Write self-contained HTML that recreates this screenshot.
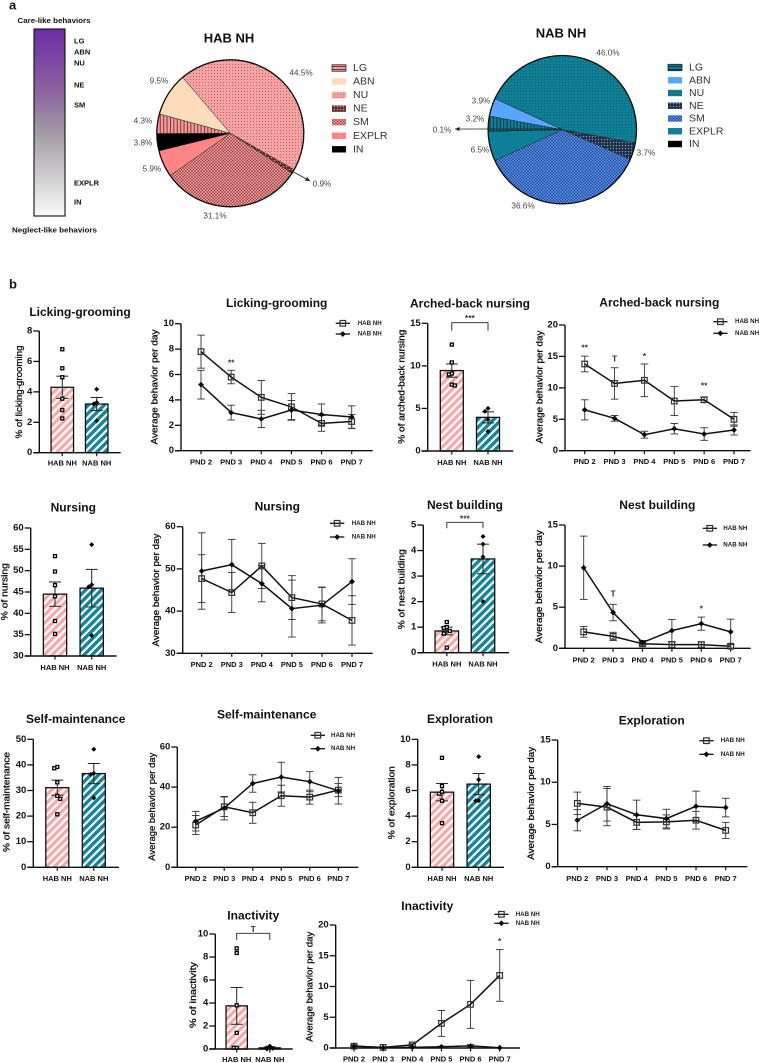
<!DOCTYPE html>
<html lang="en">
<head>
<meta charset="utf-8">
<title>Maternal behavior: HAB NH vs NAB NH</title>
<style>
html,body{margin:0;padding:0;background:#fff;}
body{width:759px;height:1063px;overflow:hidden;}
svg{display:block;filter:blur(.35px);font-family:"Liberation Sans",Arial,sans-serif;}
text{fill:#111;dominant-baseline:central;}
</style>
</head>
<body>
<svg id="figure" width="759" height="1063" viewBox="0 0 759 1063" xmlns="http://www.w3.org/2000/svg">
<defs>
<linearGradient id="care-gradient" x1="0" y1="0" x2="0" y2="1">
<stop offset="0" stop-color="#6d2ba6"/>
<stop offset=".33" stop-color="#8a639f"/>
<stop offset=".6" stop-color="#a9a6a9"/>
<stop offset="1" stop-color="#fafafa"/>
</linearGradient>
<pattern id="stripe-hab" width="5.6" height="5.6" patternUnits="userSpaceOnUse" patternTransform="rotate(45)"><rect width="5.6" height="5.6" fill="#fff"/><rect width="3.2" height="5.6" fill="#f9a7a7"/></pattern>
<pattern id="stripe-nab" width="5.6" height="5.6" patternUnits="userSpaceOnUse" patternTransform="rotate(45)"><rect width="5.6" height="5.6" fill="#fff"/><rect width="3.4" height="5.6" fill="#14849b"/></pattern>
<pattern id="hab-LG" width="3.4" height="3.4" patternUnits="userSpaceOnUse"><rect width="3.4" height="3.4" fill="#f59a9a"/><rect width=".9" height="3.4" fill="#6b3030"/></pattern>
<pattern id="hab-LG-key" width="3" height="3" patternUnits="userSpaceOnUse"><rect width="3" height="3" fill="#f59a9a"/><rect width="3" height=".9" fill="#6b3030"/></pattern>
<pattern id="hab-NU" width="3" height="3" patternUnits="userSpaceOnUse"><rect width="3" height="3" fill="#f8a3a3"/><circle cx="1.5" cy="1.5" r=".55" fill="#a85a5a"/></pattern>
<pattern id="hab-NE" width="3" height="3" patternUnits="userSpaceOnUse"><rect width="3" height="3" fill="#5e2c2c"/><circle cx="1.5" cy="1.5" r=".8" fill="#e89090"/></pattern>
<pattern id="hab-SM" width="3" height="3" patternUnits="userSpaceOnUse"><rect width="3" height="3" fill="#f29393"/><path d="M0 3L3 0M0 0L3 3" stroke="#753a3a" stroke-width=".5"/></pattern>
<pattern id="nab-LG" width="3.4" height="3.4" patternUnits="userSpaceOnUse"><rect width="3.4" height="3.4" fill="#0e8096"/><rect width=".9" height="3.4" fill="#07303c"/></pattern>
<pattern id="nab-LG-key" width="3" height="3" patternUnits="userSpaceOnUse"><rect width="3" height="3" fill="#0e8096"/><rect width="3" height=".9" fill="#07303c"/></pattern>
<pattern id="nab-NU" width="3" height="3" patternUnits="userSpaceOnUse"><rect width="3" height="3" fill="#0e8096"/><circle cx="1.5" cy="1.5" r=".55" fill="#0a4f60"/></pattern>
<pattern id="nab-NE" width="3" height="3" patternUnits="userSpaceOnUse"><rect width="3" height="3" fill="#1c2f48"/><circle cx="1.5" cy="1.5" r=".75" fill="#7f93ad"/></pattern>
<pattern id="nab-SM" width="3" height="3" patternUnits="userSpaceOnUse"><rect width="3" height="3" fill="#4f88e6"/><path d="M0 3L3 0M0 0L3 3" stroke="#1d3f78" stroke-width=".5"/></pattern>
</defs>

<text x="9" y="5" font-size="13" font-weight="bold">a</text>
<text x="9" y="284" font-size="13" font-weight="bold">b</text>

<g>
<text x="54" y="20.5" font-size="7.5" font-weight="bold" text-anchor="middle" textLength="73" lengthAdjust="spacingAndGlyphs">Care-like behaviors</text>
<rect x="34" y="29" width="31" height="187" fill="url(#care-gradient)" stroke="#111" stroke-width="1.1"/>
<text x="74" y="41" font-size="7.5" font-weight="bold">LG</text>
<text x="74" y="52" font-size="7.5" font-weight="bold">ABN</text>
<text x="74" y="63" font-size="7.5" font-weight="bold">NU</text>
<text x="74" y="85" font-size="7.5" font-weight="bold">NE</text>
<text x="74" y="105" font-size="7.5" font-weight="bold">SM</text>
<text x="74" y="183" font-size="7.5" font-weight="bold">EXPLR</text>
<text x="74" y="202" font-size="7.5" font-weight="bold">IN</text>
<text x="54.5" y="230" font-size="7.5" font-weight="bold" text-anchor="middle" textLength="85" lengthAdjust="spacingAndGlyphs">Neglect-like behaviors</text>
</g>
</svg>

<script>
const NS = 'http://www.w3.org/2000/svg';
const figure = document.getElementById('figure');

/* ---------- shared categories ---------- */
const groupNames = ['HAB NH', 'NAB NH'];
const pndDays = ['PND 2', 'PND 3', 'PND 4', 'PND 5', 'PND 6', 'PND 7'];
const pieCategories = ['LG', 'ABN', 'NU', 'NE', 'SM', 'EXPLR', 'IN'];

/* ---------- pie shares (%) in legend order ---------- */
const habPieValues = [4.3, 9.5, 44.5, 0.9, 31.1, 5.9, 3.8];
const nabPieValues = [3.2, 3.9, 46.0, 3.7, 36.6, 6.5, 0.1];

/* ---------- licking-grooming ---------- */
const lgBarMeans = [4.3, 3.2];
const lgBarSem = [0.73, 0.43];
const lgBarHabPoints = [6.8, 5.55, 4.96, 3.55, 2.8, 2.25];
const lgBarNabPoints = [4.17, 3.3, 3.2, 2.1];
const lgBarTicks = [0, 2, 4, 6, 8];
const lgHabMeans = [7.8, 5.8, 4.2, 3.45, 2.15, 2.3];
const lgHabSem = [1.3, 0.53, 1.33, 1.05, 0.62, 0.55];
const lgNabMeans = [5.2, 3.0, 2.5, 3.2, 2.85, 2.65];
const lgNabSem = [1.13, 0.58, 0.68, 0.75, 0.83, 0.88];
const lgLineTicks = [0, 2, 4, 6, 8, 10];
const lgSigDays = [1];
const lgSigValues = [6.93];
const lgSigMarks = ['**'];

/* ---------- arched-back nursing ---------- */
const abnBarMeans = [9.45, 3.95];
const abnBarSem = [0.78, 0.65];
const abnBarHabPoints = [12.5, 10.4, 9.1, 9.0, 7.8, 7.7];
const abnBarNabPoints = [5.0, 4.65, 3.7, 2.3];
const abnBarTicks = [0, 5, 10, 15];
const abnHabMeans = [13.8, 10.7, 11.2, 7.9, 8.1, 5.0];
const abnHabSem = [1.25, 2.5, 2.6, 2.3, 0.4, 1.1];
const abnNabMeans = [6.5, 5.15, 2.55, 3.5, 2.65, 3.3];
const abnNabSem = [1.6, 0.45, 0.55, 0.83, 1.0, 0.8];
const abnLineTicks = [0, 5, 10, 15, 20];
const abnSigDays = [0, 1, 2, 4];
const abnSigValues = [16.45, 14.7, 15.07, 10.35];
const abnSigMarks = ['**', 'T', '*', '**'];

/* ---------- nursing ---------- */
const nuBarMeans = [44.5, 45.9];
const nuBarSem = [2.85, 4.4];
const nuBarHabPoints = [53.4, 49.8, 46.6, 44.0, 38.2, 35.2];
const nuBarNabPoints = [56.1, 46.7, 46.2, 34.8];
const nuBarTicks = [30, 35, 40, 45, 50, 55, 60];
const nuHabMeans = [47.7, 44.4, 50.7, 43.2, 41.7, 37.8];
const nuHabSem = [5.65, 4.75, 5.35, 5.2, 4.0, 5.85];
const nuNabMeans = [49.5, 51.0, 46.5, 40.6, 41.4, 47.0];
const nuNabSem = [9.05, 6.0, 4.3, 6.75, 4.2, 5.4];
const nuLineTicks = [30, 40, 50, 60];

/* ---------- nest building ---------- */
const neBarMeans = [0.85, 3.67];
const neBarSem = [0.15, 0.58];
const neBarHabPoints = [1.2, 1.0, 0.97, 0.85, 0.75, 0.2];
const neBarNabPoints = [4.55, 4.25, 3.75, 2.0];
const neBarTicks = [0, 1, 2, 3, 4, 5];
const neHabMeans = [2.0, 1.45, 0.55, 0.45, 0.45, 0.25];
const neHabSem = [0.65, 0.5, 0.25, 0.35, 0.33, 0.25];
const neNabMeans = [9.8, 4.35, 0.7, 2.15, 3.0, 2.0];
const neNabSem = [3.85, 1.0, 0.25, 1.35, 0.8, 1.55];
const neLineTicks = [0, 5, 10, 15];
const neSigDays = [1, 4];
const neSigValues = [6.64, 4.87];
const neSigMarks = ['T', '*'];

/* ---------- self-maintenance ---------- */
const smBarMeans = [31.1, 36.6];
const smBarSem = [2.95, 3.95];
const smBarHabPoints = [39.2, 38.7, 33.2, 27.9, 26.7, 20.7];
const smBarNabPoints = [46.1, 36.7, 36.3, 27.1];
const smBarTicks = [0, 10, 20, 30, 40, 50];
const smHabMeans = [21.1, 30.2, 27.2, 35.7, 35.0, 38.5];
const smHabSem = [4.75, 4.9, 5.25, 5.25, 3.5, 3.25];
const smNabMeans = [23.0, 29.5, 41.8, 45.0, 42.7, 38.2];
const smNabSem = [4.9, 5.85, 4.35, 7.4, 5.0, 6.65];
const smLineTicks = [0, 20, 40, 60];

/* ---------- exploration ---------- */
const exBarMeans = [5.87, 6.5];
const exBarSem = [0.68, 0.83];
const exBarHabPoints = [8.55, 6.35, 5.9, 5.75, 5.2, 3.45];
const exBarNabPoints = [8.65, 6.85, 5.2, 5.2];
const exBarTicks = [0, 2, 4, 6, 8, 10];
const exHabMeans = [7.5, 7.05, 5.25, 5.3, 5.5, 4.3];
const exHabSem = [1.33, 2.2, 0.83, 0.83, 1.05, 0.95];
const exNabMeans = [5.5, 7.45, 6.15, 5.7, 7.15, 7.0];
const exNabSem = [1.25, 2.05, 1.73, 1.1, 1.8, 1.1];
const exLineTicks = [0, 5, 10, 15];

/* ---------- inactivity ---------- */
const inBarMeans = [3.75, 0.1];
const inBarSem = [1.6, 0.08];
const inBarHabPoints = [8.75, 8.35, 3.8, 1.4, 0.1, 0.1];
const inBarNabPoints = [0.25, 0.1, 0.05, 0.0];
const inBarTicks = [0, 2, 4, 6, 8, 10];
const inHabMeans = [0.3, 0.1, 0.5, 4.0, 7.1, 11.8];
const inHabSem = [0.2, 0.05, 0.2, 2.1, 3.9, 4.2];
const inNabMeans = [0.3, 0.05, 0.1, 0.2, 0.35, 0.05];
const inNabSem = [0.1, 0.05, 0.05, 0.1, 0.2, 0.02];
const inLineTicks = [0, 5, 10, 15, 20];
const inSigDays = [5];
const inSigValues = [17.4];
const inSigMarks = ['*'];

/* ---------- element helpers ---------- */
function mk(tag, attrs, parent, name) {
  const el = document.createElementNS(NS, tag);
  for (const k in attrs) el.setAttribute(k, attrs[k]);
  
  
  parent.appendChild(el);
  return el;
}
function txt(str, attrs, parent, name) {
  const el = mk('text', attrs, parent, name);
  el.textContent = str;
  return el;
}
function line(x1, y1, x2, y2, stroke, sw, parent, name) {
  return mk('line', {x1, y1, x2, y2, stroke, 'stroke-width': sw}, parent, name);
}
function linearScale(d0, d1, p0, p1) {
  return v => p0 + (v - d0) * (p1 - p0) / (d1 - d0);
}
function slug(s) {
  return s.toLowerCase().replace(/[^a-z0-9]+/g, '-');
}

/* ---------- pies ---------- */
function drawPie(opt) {
  const g = mk('g', {}, figure, opt.key + '-pie-chart');
  txt(opt.title, {x: opt.titleX, y: opt.titleY, 'font-size': 13, 'font-weight': 'bold', 'text-anchor': 'middle'}, g, opt.key + '-pie-title');
  const total = opt.values.reduce((a, b) => a + b, 0);
  const n = opt.values.length;
  let angle = opt.startAngle;
  for (let k = 0; k < n; k++) {
    const i = (k + 2) % n;
    const sweep = opt.values[i] / total * 360;
    const a0 = angle * Math.PI / 180;
    const a1 = (angle + sweep) * Math.PI / 180;
    const x0 = opt.cx + opt.r * Math.sin(a0);
    const y0 = opt.cy - opt.r * Math.cos(a0);
    const x1 = opt.cx + opt.r * Math.sin(a1);
    const y1 = opt.cy - opt.r * Math.cos(a1);
    const large = sweep > 180 ? 1 : 0;
    const d = 'M' + opt.cx + ' ' + opt.cy + 'L' + x0 + ' ' + y0 + 'A' + opt.r + ' ' + opt.r + ' 0 ' + large + ' 1 ' + x1 + ' ' + y1 + 'Z';
    mk('path', {d, fill: opt.fills[i], stroke: '#222', 'stroke-width': .5}, g, opt.key + '-slice-' + slug(pieCategories[i]));
    angle += sweep;
  }
  mk('circle', {cx: opt.cx, cy: opt.cy, r: opt.r, fill: 'none', stroke: '#0a0a0a', 'stroke-width': 1.3}, g, opt.key + '-pie-outline');
  opt.values.forEach((v, i) => {
    txt(v.toFixed(1) + '%', {x: opt.labelX[i], y: opt.labelY[i], 'font-size': 8.2, 'text-anchor': 'middle', style: 'fill:#444'}, g, opt.key + '-percent-' + slug(pieCategories[i]));
  });
  line(opt.arrow[0], opt.arrow[1], opt.arrow[2], opt.arrow[3], '#222', .8, g, opt.key + '-leader-line');
  const ang = Math.atan2(opt.arrow[3] - opt.arrow[1], opt.arrow[2] - opt.arrow[0]);
  const ax = opt.arrow[2], ay = opt.arrow[3];
  const pts = [[ax, ay], [ax - 5 * Math.cos(ang - .45), ay - 5 * Math.sin(ang - .45)], [ax - 5 * Math.cos(ang + .45), ay - 5 * Math.sin(ang + .45)]];
  mk('polygon', {points: pts.map(p => p.join(',')).join(' '), fill: '#222'}, g, opt.key + '-leader-arrowhead');
  const lg = mk('g', {}, g, opt.key + '-pie-legend');
  pieCategories.forEach((c, i) => {
    const y = opt.legendY0 + i * opt.legendDy;
    const entry = mk('g', {}, lg, opt.key + '-legend-entry-' + slug(c));
    const a = {x: opt.legendX, y: y - 3.2, width: 14, height: 6.4, fill: i === 0 ? opt.keyFill : opt.fills[i]};
    if (i === 0) { a.stroke = '#222'; a['stroke-width'] = .8; }
    mk('rect', a, entry, opt.key + '-legend-swatch-' + slug(c));
    txt(c, {x: opt.legendX + 21, y, 'font-size': 10.5, style: 'fill:#333'}, entry, opt.key + '-legend-label-' + slug(c));
  });
}

drawPie({
  key: 'hab', title: 'HAB NH', titleX: 229, titleY: 38, cx: 230.3, cy: 133.3, r: 73.5, startAngle: -40.5,
  values: habPieValues,
  fills: ['url(#hab-LG)', '#fddcbc', 'url(#hab-NU)', 'url(#hab-NE)', 'url(#hab-SM)', '#ff8585', '#000'],
  keyFill: 'url(#hab-LG-key)',
  labelX: [143, 159, 301, 322, 215, 152, 143],
  labelY: [121, 81, 73, 184, 216, 169, 143],
  arrow: [290, 170, 310, 181],
  legendX: 332, legendY0: 68, legendDy: 13.55
});
drawPie({
  key: 'nab', title: 'NAB NH', titleX: 561, titleY: 33, cx: 562.3, cy: 129.7, r: 74.2, startAngle: -65.3,
  values: nabPieValues,
  fills: ['url(#nab-LG)', '#5aa5ff', 'url(#nab-NU)', 'url(#nab-NE)', 'url(#nab-SM)', '#0c8099', '#000'],
  keyFill: 'url(#nab-LG-key)',
  labelX: [475, 481, 608, 646, 523, 480, 442],
  labelY: [119, 101, 53, 153, 206, 150, 130],
  arrow: [562, 129, 455, 129],
  legendX: 668, legendY0: 67.5, legendDy: 12.75
});

/* ---------- bar + scatter panels ---------- */
function drawBar(opt) {
  const key = opt.key;
  const g = mk('g', {}, figure, key + '-bar-chart');
  const t = opt.ticks;
  const y = linearScale(t[0], t[t.length - 1], opt.y0, opt.yTop);
  txt(opt.title, {x: opt.titleX, y: opt.titleY, 'font-size': 12, 'font-weight': 'bold', 'text-anchor': 'middle'}, g, key + '-bar-title');
  const yl = txt(opt.yLabel, {x: 0, y: 0, 'font-size': 9, 'text-anchor': 'middle', textLength: opt.yLabelLen, lengthAdjust: 'spacingAndGlyphs', stroke: '#111', 'stroke-width': .3, transform: 'translate(' + opt.yLabelX + ' ' + opt.yLabelY + ') rotate(-90)'}, g, key + '-bar-y-axis-title');
  yl.setAttribute('fill', '#111');
  const fills = ['url(#stripe-hab)', 'url(#stripe-nab)'];
  opt.means.forEach((m, i) => {
    const c = opt.centers[i];
    const top = y(m);
    mk('rect', {x: c - opt.barWidth / 2, y: top, width: opt.barWidth, height: Math.max(opt.y0 - top, 0), fill: fills[i], stroke: '#111', 'stroke-width': 1.3}, g, key + '-bar-' + slug(groupNames[i]));
    const hi = y(m + opt.sem[i]);
    const lo = y(m - opt.sem[i]);
    line(c, hi, c, lo, '#222', 1, g, key + '-bar-error-' + slug(groupNames[i]));
    line(c - 6, hi, c + 6, hi, '#222', 1, g, key + '-bar-error-cap-high-' + slug(groupNames[i]));
    line(c - 6, lo, c + 6, lo, '#222', 1, g, key + '-bar-error-cap-low-' + slug(groupNames[i]));
  });
  const drawPoints = (vals, c, kind) => {
    let prev = null, side = -1;
    vals.forEach((v, i) => {
      const py = y(v);
      let px = c;
      if (prev !== null && Math.abs(prev - py) < 3.4) {
        px = c + side * 3;
        side = -side;
      }
      prev = py;
      if (kind === 0) {
        mk('rect', {x: px - 1.5, y: py - 1.5, width: 3, height: 3, fill: '#fff', stroke: '#000', 'stroke-width': 1.3}, g, key + '-point-hab-' + i);
      } else {
        mk('polygon', {points: px + ',' + (py - 2.5) + ' ' + (px + 2.5) + ',' + py + ' ' + px + ',' + (py + 2.5) + ' ' + (px - 2.5) + ',' + py, fill: '#000'}, g, key + '-point-nab-' + i);
      }
    });
  };
  drawPoints(opt.habPoints, opt.centers[0], 0);
  drawPoints(opt.nabPoints, opt.centers[1], 1);
  line(opt.axisX, opt.yTop, opt.axisX, opt.y0, '#111', 1.4, g, key + '-bar-y-axis');
  line(opt.axisX - 6, opt.y0, opt.xEnd, opt.y0, '#111', 1.4, g, key + '-bar-x-axis');
  t.forEach(v => {
    line(opt.axisX - 6, y(v), opt.axisX, y(v), '#111', 1.3, g, key + '-bar-y-tick-' + v);
    txt(String(v), {x: opt.axisX - 7, y: y(v), 'font-size': 9.5, 'font-weight': 'bold', 'text-anchor': 'end'}, g, key + '-bar-y-tick-label-' + v);
  });
  groupNames.forEach((n, i) => {
    line(opt.centers[i], opt.y0, opt.centers[i], opt.y0 + 3.5, '#111', 1.2, g, key + '-bar-x-tick-' + slug(n));
    txt(n, {x: opt.centers[i], y: opt.labelY, 'font-size': 7.5, 'font-weight': 'bold', 'text-anchor': 'middle'}, g, key + '-bar-x-label-' + slug(n));
  });
  if (opt.bracket) {
    const b = opt.bracket;
    mk('path', {d: 'M' + opt.centers[0] + ' ' + (b.top + b.drop) + 'V' + b.top + 'H' + opt.centers[1] + 'V' + (b.top + b.drop), fill: 'none', stroke: '#222', 'stroke-width': .9}, g, key + '-significance-bracket');
    txt(b.mark, {x: (opt.centers[0] + opt.centers[1]) / 2, y: b.textY, 'font-size': 8.5, 'font-weight': 'bold', 'text-anchor': 'middle', style: 'fill:#333'}, g, key + '-significance-mark');
  }
}

/* ---------- line panels ---------- */
function drawLine(opt) {
  const key = opt.key;
  const g = mk('g', {}, figure, key + '-line-chart');
  const t = opt.ticks;
  const y = linearScale(t[0], t[t.length - 1], opt.y0, opt.yTop);
  const x = i => opt.xFirst + (opt.xLast - opt.xFirst) * i / (pndDays.length - 1);
  txt(opt.title, {x: opt.titleX, y: opt.titleY, 'font-size': 12, 'font-weight': 'bold', 'text-anchor': 'middle'}, g, key + '-line-title');
  const yl = txt('Average behavior per day', {x: 0, y: 0, 'font-size': 9.5, 'text-anchor': 'middle', textLength: opt.yLabelLen, lengthAdjust: 'spacingAndGlyphs', stroke: '#111', 'stroke-width': .3, transform: 'translate(' + opt.yLabelX + ' ' + opt.yLabelY + ') rotate(-90)'}, g, key + '-line-y-axis-title');
  yl.setAttribute('fill', '#111');
  line(opt.axisX, opt.yTop, opt.axisX, opt.y0, '#111', 1.4, g, key + '-line-y-axis');
  line(opt.axisX - 6, opt.y0, opt.xEnd, opt.y0, '#111', 1.4, g, key + '-line-x-axis');
  t.forEach(v => {
    line(opt.axisX - 6, y(v), opt.axisX, y(v), '#111', 1.3, g, key + '-line-y-tick-' + v);
    txt(String(v), {x: opt.axisX - 7, y: y(v), 'font-size': 9.5, 'font-weight': 'bold', 'text-anchor': 'end'}, g, key + '-line-y-tick-label-' + v);
  });
  pndDays.forEach((d, i) => {
    line(x(i), opt.y0, x(i), opt.y0 + 3.5, '#111', 1.2, g, key + '-line-x-tick-' + slug(d));
    txt(d, {x: x(i), y: opt.labelY, 'font-size': 7.5, 'font-weight': 'bold', 'text-anchor': 'middle'}, g, key + '-line-x-label-' + slug(d));
  });
  const marker = (px, py, kind, parent, name) => {
    if (kind === 0) {
      mk('rect', {x: px - 2.8, y: py - 2.8, width: 5.6, height: 5.6, fill: 'none', stroke: '#333', 'stroke-width': 1.2}, parent, name);
    } else {
      mk('polygon', {points: px + ',' + (py - 2.9) + ' ' + (px + 2.9) + ',' + py + ' ' + px + ',' + (py + 2.9) + ' ' + (px - 2.9) + ',' + py, fill: '#0a0a0a'}, parent, name);
    }
  };
  const series = (means, sem, kind, label) => {
    const sg = mk('g', {}, g, key + '-series-' + label);
    means.forEach((m, i) => {
      const hi = y(m + sem[i]);
      const lo = y(Math.max(m - sem[i], t[0]));
      line(x(i), hi, x(i), lo, '#333', .9, sg, key + '-' + label + '-error-' + i);
      line(x(i) - 3.8, hi, x(i) + 3.8, hi, '#333', .9, sg, key + '-' + label + '-error-cap-high-' + i);
      line(x(i) - 3.8, lo, x(i) + 3.8, lo, '#333', .9, sg, key + '-' + label + '-error-cap-low-' + i);
    });
    mk('polyline', {points: means.map((m, i) => x(i) + ',' + y(m)).join(' '), fill: 'none', stroke: '#111', 'stroke-width': 1.5}, sg, key + '-' + label + '-line');
    means.forEach((m, i) => marker(x(i), y(m), kind, sg, key + '-' + label + '-point-' + i));
  };
  series(opt.habMeans, opt.habSem, 0, 'hab');
  series(opt.nabMeans, opt.nabSem, 1, 'nab');
  if (opt.sigDays) {
    opt.sigDays.forEach((d, i) => {
      txt(opt.sigMarks[i], {x: x(d), y: y(opt.sigValues[i]), 'font-size': 8.5, 'font-weight': 'bold', 'text-anchor': 'middle', style: 'fill:#333'}, g, key + '-significance-mark-' + i);
    });
  }
  groupNames.forEach((n, i) => {
    const ly = opt.legendY[i];
    const entry = mk('g', {}, g, key + '-legend-entry-' + slug(n));
    line(opt.legendX0, ly, opt.legendX0 + 14.3, ly, '#111', 1.3, entry, key + '-legend-line-' + slug(n));
    marker(opt.legendX0 + 7.1, ly, i, entry, key + '-legend-marker-' + slug(n));
    txt(n, {x: opt.legendTextX, y: ly, 'font-size': 6.2, 'font-weight': 'bold', style: 'fill:#222'}, entry, key + '-legend-label-' + slug(n));
  });
}

/* ---------- row 1 ---------- */
drawBar({key: 'licking-grooming', title: 'Licking-grooming', titleX: 80, titleY: 312, yLabel: '% of licking-grooming', yLabelX: 19, yLabelY: 392, yLabelLen: 93,
  axisX: 39.3, yTop: 331, y0: 452.7, xEnd: 120.7, centers: [62.3, 96.7], barWidth: 22.5, labelY: 463,
  ticks: lgBarTicks, means: lgBarMeans, sem: lgBarSem, habPoints: lgBarHabPoints, nabPoints: lgBarNabPoints});
drawLine({key: 'licking-grooming', title: 'Licking-grooming', titleX: 276.7, titleY: 303, yLabelX: 155, yLabelY: 387, yLabelLen: 115,
  axisX: 181, yTop: 323.7, y0: 450.7, xEnd: 372.7, xFirst: 201, xLast: 351.7, labelY: 462,
  ticks: lgLineTicks, habMeans: lgHabMeans, habSem: lgHabSem, nabMeans: lgNabMeans, nabSem: lgNabSem,
  sigDays: lgSigDays, sigValues: lgSigValues, sigMarks: lgSigMarks,
  legendX0: 335.7, legendTextX: 357.7, legendY: [323.3, 334]});
drawBar({key: 'arched-back', title: 'Arched-back nursing', titleX: 470, titleY: 303.7, yLabel: '% of arched-back nursing', yLabelX: 401.7, yLabelY: 386.7, yLabelLen: 114,
  axisX: 427.7, yTop: 323.3, y0: 451, xEnd: 513.3, centers: [451.8, 488], barWidth: 23, labelY: 462.7,
  ticks: abnBarTicks, means: abnBarMeans, sem: abnBarSem, habPoints: abnBarHabPoints, nabPoints: abnBarNabPoints,
  bracket: {top: 322.7, drop: 8, mark: '***', textY: 318}});
drawLine({key: 'arched-back', title: 'Arched-back nursing', titleX: 659.3, titleY: 302.3, yLabelX: 540, yLabelY: 387, yLabelLen: 113,
  axisX: 565, yTop: 325, y0: 450.7, xEnd: 750.7, xFirst: 584.7, xLast: 734, labelY: 461.7,
  ticks: abnLineTicks, habMeans: abnHabMeans, habSem: abnHabSem, nabMeans: abnNabMeans, nabSem: abnNabSem,
  sigDays: abnSigDays, sigValues: abnSigValues, sigMarks: abnSigMarks,
  legendX0: 713.3, legendTextX: 735, legendY: [321.7, 333.3]});

/* ---------- row 2 ---------- */
drawBar({key: 'nursing', title: 'Nursing', titleX: 73.3, titleY: 507.7, yLabel: '% of nursing', yLabelX: 4.5, yLabelY: 591.7, yLabelLen: 57,
  axisX: 30.7, yTop: 528, y0: 656, xEnd: 116.7, centers: [55, 91.7], barWidth: 23.3, labelY: 667.3,
  ticks: nuBarTicks, means: nuBarMeans, sem: nuBarSem, habPoints: nuBarHabPoints, nabPoints: nuBarNabPoints});
drawLine({key: 'nursing', title: 'Nursing', titleX: 277.3, titleY: 506.7, yLabelX: 156.7, yLabelY: 590, yLabelLen: 113,
  axisX: 182.7, yTop: 526.7, y0: 653.3, xEnd: 372.7, xFirst: 201.7, xLast: 352, labelY: 664.3,
  ticks: nuLineTicks, habMeans: nuHabMeans, habSem: nuHabSem, nabMeans: nuNabMeans, nabSem: nuNabSem,
  legendX0: 330, legendTextX: 351.7, legendY: [523.3, 537]});
drawBar({key: 'nest-building', title: 'Nest building', titleX: 465, titleY: 505, yLabel: '% of nest building', yLabelX: 401.7, yLabelY: 589.3, yLabelLen: 80,
  axisX: 423.3, yTop: 525, y0: 652.7, xEnd: 509, centers: [446.8, 483], barWidth: 23.5, labelY: 664,
  ticks: neBarTicks, means: neBarMeans, sem: neBarSem, habPoints: neBarHabPoints, nabPoints: neBarNabPoints,
  bracket: {top: 522.3, drop: 6, mark: '***', textY: 518.3}});
drawLine({key: 'nest-building', title: 'Nest building', titleX: 657.3, titleY: 505, yLabelX: 539.3, yLabelY: 586.7, yLabelLen: 113,
  axisX: 565, yTop: 525, y0: 648.3, xEnd: 750.7, xFirst: 583.7, xLast: 730.7, labelY: 660,
  ticks: neLineTicks, habMeans: neHabMeans, habSem: neHabSem, nabMeans: neNabMeans, nabSem: neNabSem,
  sigDays: neSigDays, sigValues: neSigValues, sigMarks: neSigMarks,
  legendX0: 702.7, legendTextX: 723.3, legendY: [528.3, 545]});

/* ---------- row 3 ---------- */
drawBar({key: 'self-maintenance', title: 'Self-maintenance', titleX: 75.7, titleY: 719, yLabel: '% of self-maintenance', yLabelX: 6.7, yLabelY: 802, yLabelLen: 100,
  axisX: 33.3, yTop: 739.3, y0: 867.3, xEnd: 119, centers: [57.3, 93.8], barWidth: 23, labelY: 878.5,
  ticks: smBarTicks, means: smBarMeans, sem: smBarSem, habPoints: smBarHabPoints, nabPoints: smBarNabPoints});
drawLine({key: 'self-maintenance', title: 'Self-maintenance', titleX: 266.7, titleY: 714.3, yLabelX: 152.3, yLabelY: 806.7, yLabelLen: 108,
  axisX: 177.3, yTop: 747, y0: 867.3, xEnd: 358.3, xFirst: 195.7, xLast: 338.3, labelY: 878.5,
  ticks: smLineTicks, habMeans: smHabMeans, habSem: smHabSem, nabMeans: smNabMeans, nabSem: smNabSem,
  legendX0: 310.7, legendTextX: 331, legendY: [735.3, 748.7]});
drawBar({key: 'exploration', title: 'Exploration', titleX: 460, titleY: 719, yLabel: '% of exploration', yLabelX: 391.7, yLabelY: 802.7, yLabelLen: 73,
  axisX: 417.7, yTop: 739.3, y0: 867.3, xEnd: 504, centers: [442, 478.7], barWidth: 23.3, labelY: 878.5,
  ticks: exBarTicks, means: exBarMeans, sem: exBarSem, habPoints: exBarHabPoints, nabPoints: exBarNabPoints});
drawLine({key: 'exploration', title: 'Exploration', titleX: 651.7, titleY: 720.3, yLabelX: 531.7, yLabelY: 803.3, yLabelLen: 113,
  axisX: 557.7, yTop: 740, y0: 866.7, xEnd: 747.3, xFirst: 577.3, xLast: 725.7, labelY: 878.5,
  ticks: exLineTicks, habMeans: exHabMeans, habSem: exHabSem, nabMeans: exNabMeans, nabSem: exNabSem,
  legendX0: 699.3, legendTextX: 720.7, legendY: [740.7, 754.3]});

/* ---------- row 4 ---------- */
drawBar({key: 'inactivity', title: 'Inactivity', titleX: 253.3, titleY: 915.7, yLabel: '% of inactivity', yLabelX: 193, yLabelY: 995, yLabelLen: 66,
  axisX: 215.3, yTop: 934, y0: 1049, xEnd: 292.7, centers: [236.7, 269.8], barWidth: 21.3, labelY: 1059.7,
  ticks: inBarTicks, means: inBarMeans, sem: inBarSem, habPoints: inBarHabPoints, nabPoints: inBarNabPoints,
  bracket: {top: 933.3, drop: 6.7, mark: 'T', textY: 929}});
drawLine({key: 'inactivity', title: 'Inactivity', titleX: 427.3, titleY: 906, yLabelX: 310, yLabelY: 986.7, yLabelLen: 110,
  axisX: 335.7, yTop: 925, y0: 1048, xEnd: 520, xFirst: 354, xLast: 499.7, labelY: 1059,
  ticks: inLineTicks, habMeans: inHabMeans, habSem: inHabSem, nabMeans: inNabMeans, nabSem: inNabSem,
  sigDays: inSigDays, sigValues: inSigValues, sigMarks: inSigMarks,
  legendX0: 494.3, legendTextX: 515.7, legendY: [914.3, 923.3]});
</script>
</body>
</html>
